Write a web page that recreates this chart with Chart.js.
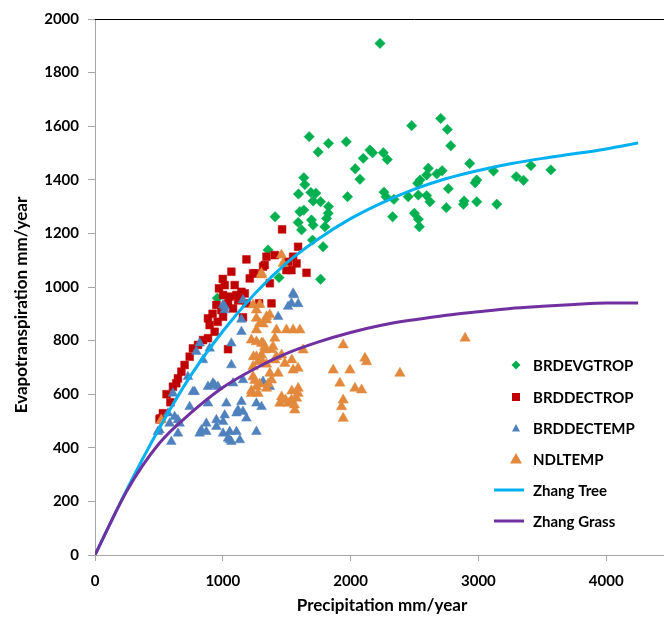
<!DOCTYPE html>
<html>
<head>
<meta charset="utf-8">
<script src="https://cdn.jsdelivr.net/npm/chart.js@4.4.1/dist/chart.umd.min.js"></script>
<style>
  html, body { margin: 0; padding: 0; background: #fff; overflow: hidden; }
  #wrap { position: relative; width: 760px; height: 618px; }
</style>
</head>
<body>
<div id="wrap"><canvas id="chart"></canvas></div>
<script>
// precipitation (mm/year) and evapotranspiration (mm/year)
const evgPrecip = [2230, 2705, 2478, 2757, 1676, 1827, 1966, 1746, 2784, 2151, 2172, 2099, 2256, 2287, 2036, 2073, 2932, 2608, 2716, 2674, 2595, 2543, 2525, 3118, 2987, 2974, 3296, 3353, 3411, 3567, 1634, 1642, 1592, 1689, 1728, 1707, 1765, 1827, 1976, 2261, 2277, 2339, 2451, 2530, 2595, 2621, 2765, 2888, 2883, 2987, 3144, 2749, 1603, 1634, 1825, 1590, 1694, 1707, 1812, 1616, 1799, 2329, 2499, 2530, 2538, 1409, 1702, 1785, 1354, 1440, 1765, 957];
const evgET = [1909, 1629, 1602, 1588, 1561, 1536, 1542, 1504, 1527, 1511, 1501, 1480, 1501, 1476, 1441, 1402, 1461, 1443, 1434, 1422, 1418, 1399, 1387, 1433, 1399, 1389, 1412, 1398, 1453, 1437, 1408, 1382, 1347, 1353, 1350, 1321, 1318, 1300, 1337, 1354, 1337, 1327, 1337, 1343, 1341, 1318, 1367, 1321, 1309, 1318, 1309, 1296, 1281, 1287, 1275, 1241, 1250, 1231, 1256, 1213, 1225, 1262, 1275, 1253, 1225, 1262, 1175, 1150, 1138, 1035, 1029, 958];

const dectropPrecip = [1185, 1067, 1250, 1315, 1368, 1211, 1550, 1498, 1655, 1577, 1015, 1093, 970, 1002, 1054, 1107, 1146, 950, 1041, 989, 1002, 1185, 1284, 1381, 884, 897, 936, 884, 845, 806, 766, 1041, 741, 701, 676, 649, 636, 610, 531, 511, 505, 1464, 1589, 1342, 1407, 1328, 1511, 1537, 1237, 1172, 1158, 1080, 1120, 960, 920, 1000, 560, 590];
const dectropET = [1103, 1057, 1051, 1076, 1014, 1032, 1113, 1063, 1053, 1088, 1007, 1007, 995, 970, 964, 970, 982, 933, 939, 914, 889, 939, 939, 939, 883, 858, 833, 809, 802, 784, 771, 768, 740, 709, 684, 659, 641, 628, 529, 510, 506, 1215, 1150, 1113, 1119, 1082, 1094, 1063, 1051, 976, 887, 920, 950, 870, 900, 1030, 600, 570];

const dectempPrecip = [1556, 1537, 1511, 1590, 1433, 1158, 1146, 1146, 1002, 1015, 1067, 819, 897, 793, 845, 1067, 727, 923, 884, 962, 1080, 1158, 1315, 1368, 766, 610, 884, 1028, 1146, 1263, 1303, 741, 571, 623, 662, 584, 1107, 1119, 1158, 1185, 1015, 950, 871, 832, 819, 1002, 1054, 1107, 1263, 1054, 1133, 597, 505, 780, 936, 649, 871, 950, 1002, 1041, 1067, 649, 492, 1550, 1015];
const dectempET = [970, 939, 927, 937, 889, 951, 879, 833, 933, 914, 790, 790, 771, 759, 728, 709, 665, 641, 628, 628, 641, 653, 647, 628, 609, 603, 566, 566, 572, 566, 553, 553, 529, 516, 491, 491, 529, 541, 535, 510, 522, 504, 491, 466, 454, 454, 460, 460, 460, 429, 429, 423, 466, 609, 634, 504, 460, 479, 497, 435, 423, 454, 460, 976, 927];

const ndlPrecip = [1459, 1303, 1472, 1237, 1263, 1342, 1368, 1263, 1289, 1263, 1498, 1550, 1603, 1224, 1315, 1407, 1393, 1328, 1263, 1303, 1628, 1276, 1407, 1485, 1589, 1550, 1237, 1368, 1433, 1381, 1237, 1354, 1263, 1224, 1276, 1589, 1577, 1537, 1446, 1563, 1511, 1942, 1864, 1995, 2112, 2125, 1916, 2034, 2086, 1942, 1929, 1942, 2386, 2896, 1303, 1289, 1342, 1315, 1420, 1263, 1303, 1328, 1380, 1420, 1240, 1303, 1342, 1460, 1540, 1250, 1289, 1342, 1224, 1460, 1540, 1590, 1490, 1560, 519];
const ndlET = [1119, 1051, 1088, 933, 914, 889, 896, 883, 864, 840, 840, 840, 840, 802, 790, 809, 777, 765, 740, 746, 765, 721, 728, 715, 697, 690, 703, 678, 678, 653, 665, 638, 628, 603, 603, 603, 585, 578, 566, 541, 566, 784, 690, 690, 734, 721, 641, 622, 616, 578, 553, 510, 678, 809, 1045, 935, 877, 862, 840, 796, 790, 777, 766, 740, 740, 728, 712, 746, 728, 651, 638, 622, 613, 590, 612, 622, 578, 560, 504];

// fitted curves as drawn in the figure
const treePrecip = [0, 250, 500, 750, 1000, 1250, 1500, 1750, 2000, 2250, 2500, 2750, 3000, 3250, 3500, 3750, 4000, 4250];
const treeET = [0, 245, 470, 670, 835, 975, 1090, 1180, 1255, 1315, 1365, 1405, 1435, 1460, 1480, 1497, 1515, 1537];
const grassPrecip = [0, 250, 500, 750, 1000, 1250, 1500, 1750, 2000, 2250, 2500, 2750, 3000, 3250, 3500, 3750, 4000, 4250];
const grassET = [0, 240, 415, 530, 625, 695, 752, 795, 830, 858, 878, 895, 908, 920, 928, 935, 940, 940];

const seriesNames = ["BRDEVGTROP", "BRDDECTROP", "BRDDECTEMP", "NDLTEMP", "Zhang Tree", "Zhang Grass"];
const seriesColors = ["#00b050", "#c00000", "#4f81bd", "#e3893d", "#00b0f0", "#7030a0"];

const toPoints = (xs, ys) => xs.map((x, i) => ({ x, y: ys[i] }));

const FONT = "Lato, 'Open Sans', sans-serif";

// axis titles placed like the original, not centred on the axis
const axisTitles = {
  id: "axisTitles",
  afterDraw(chart) {
    const ctx = chart.ctx;
    ctx.save();
    ctx.fillStyle = "#000";
    ctx.font = `bold 17px ${FONT}`;
    ctx.textAlign = "center";
    ctx.textBaseline = "middle";
    ctx.fillText("Precipitation mm/year", 382, 606);
    ctx.translate(22, 305);
    ctx.rotate(-Math.PI / 2);
    ctx.fillText("Evapotranspiration mm/year", 0, 0);
    ctx.restore();
  },
};

// top border of the plot area
const topBorder = {
  id: "topBorder",
  afterDraw(chart) {
    const { ctx, chartArea } = chart;
    ctx.save();
    ctx.strokeStyle = "#000";
    ctx.lineWidth = 1;
    ctx.beginPath();
    ctx.moveTo(chartArea.left, chartArea.top + 0.5);
    ctx.lineTo(chartArea.right, chartArea.top + 0.5);
    ctx.stroke();
    ctx.restore();
  },
};

// legend boxed inside the plot, lower right
const insideLegend = {
  id: "insideLegend",
  afterDraw(chart) {
    const ctx = chart.ctx;
    const rows = [365, 397, 428, 459, 490, 521];
    const mx = 516;
    ctx.save();
    ctx.font = `bold 15px ${FONT}`;
    ctx.textBaseline = "middle";
    ctx.textAlign = "left";
    chart.data.datasets.forEach((ds, i) => {
      const y = rows[i];
      ctx.fillStyle = seriesColors[i];
      ctx.strokeStyle = seriesColors[i];
      ctx.beginPath();
      if (i === 0) {
        ctx.moveTo(mx, y - 4.5); ctx.lineTo(mx + 4.5, y); ctx.lineTo(mx, y + 4.5); ctx.lineTo(mx - 4.5, y);
        ctx.closePath(); ctx.fill();
      } else if (i === 1) {
        ctx.rect(mx - 4, y - 4, 8, 8); ctx.fill();
      } else if (i === 2) {
        ctx.moveTo(mx, y - 4); ctx.lineTo(mx + 4, y + 3.5); ctx.lineTo(mx - 4, y + 3.5);
        ctx.closePath(); ctx.fill();
      } else if (i === 3) {
        ctx.moveTo(mx, y - 6); ctx.lineTo(mx + 6, y + 4.5); ctx.lineTo(mx - 6, y + 4.5);
        ctx.closePath(); ctx.fill();
      } else {
        ctx.lineWidth = 3;
        ctx.moveTo(494, y); ctx.lineTo(524, y); ctx.stroke();
      }
      ctx.fillStyle = "#000";
      ctx.fillText(ds.label, 533, y + 1);
    });
    ctx.restore();
  },
};

const scatterSet = (i, xs, ys, style, r, order) => ({
  type: "scatter",
  label: seriesNames[i],
  data: toPoints(xs, ys),
  pointStyle: style,
  pointRadius: r,
  pointHoverRadius: r,
  backgroundColor: seriesColors[i],
  borderColor: seriesColors[i],
  borderWidth: 0.5,
  order,
});

const lineSet = (i, xs, ys, order) => ({
  type: "line",
  label: seriesNames[i],
  data: toPoints(xs, ys),
  borderColor: seriesColors[i],
  backgroundColor: seriesColors[i],
  borderWidth: 3,
  pointRadius: 0,
  fill: false,
  cubicInterpolationMode: "monotone",
  order,
});

new Chart(document.getElementById("chart"), {
  type: "scatter",
  data: {
    datasets: [
      scatterSet(0, evgPrecip, evgET, "rectRot", 5.2, 6),
      scatterSet(1, dectropPrecip, dectropET, "rect", 5.5, 5),
      scatterSet(2, dectempPrecip, dectempET, "triangle", 5.6, 4),
      scatterSet(3, ndlPrecip, ndlET, "triangle", 6, 3),
      lineSet(4, treePrecip, treeET, 2),
      lineSet(5, grassPrecip, grassET, 1),
    ],
  },
  options: {
    responsive: true,
    maintainAspectRatio: false,
    animation: false,
    layout: { padding: { top: 19, right: 26, left: 0, bottom: 0 } },
    plugins: { legend: { display: false }, tooltip: { enabled: false } },
    scales: {
      x: {
        type: "linear",
        min: 0,
        max: 5000,
        afterFit: (s) => { s.height = 63; },
        ticks: {
          stepSize: 1000,
          padding: 11,
          color: "#000",
          font: { family: FONT, size: 15, weight: "bold" },
          callback: (v) => (v > 4000 ? "" : String(v)),
        },
        grid: { drawOnChartArea: false, drawTicks: true, tickLength: 6, color: "#a6a6a6" },
        border: { color: "#a6a6a6", width: 1 },
      },
      y: {
        min: 0,
        max: 2000,
        afterFit: (s) => { s.width = 95; },
        ticks: {
          stepSize: 200,
          padding: 9,
          color: "#000",
          font: { family: FONT, size: 15, weight: "bold" },
          callback: (v) => String(v),
        },
        grid: { drawOnChartArea: false, drawTicks: true, tickLength: 7, color: "#a6a6a6" },
        border: { color: "#a6a6a6", width: 1 },
      },
    },
  },
  plugins: [axisTitles, topBorder, insideLegend],
});
</script>
</body>
</html>
